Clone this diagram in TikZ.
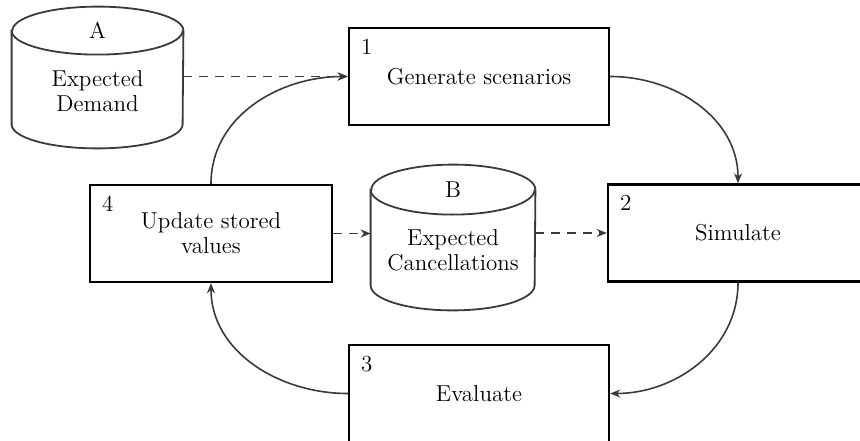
\documentclass[tikz,border=0pt]{standalone}
\usetikzlibrary{arrows.meta}
\definecolor{lnc}{HTML}{3A3A3A}
\begin{document}
\begin{tikzpicture}[x=0.5pt,y=0.5pt,
  font=\fontsize{11.5pt}{12.5pt}\selectfont,
  proc/.style={draw=black, line width=1.2pt, minimum width=130pt, minimum height=48.5pt, inner sep=0pt, align=center},
  num/.style={anchor=north west, inner sep=0pt},
  cylbody/.style={inner sep=0pt, minimum width=#1},
  cylline/.style={draw=lnc, line width=0.9pt},
  flow/.style={draw=lnc, line width=0.8pt, -{Stealth[length=5pt,width=4pt]}},
  dflow/.style={flow, dash pattern=on 4.5pt off 3.5pt},
  txt/.style={align=center, inner sep=0pt}
]
\useasboundingbox (0,0) rectangle (860,440);
\clip (0,0) rectangle (860,440);

% process boxes
\node[proc] (p1) at (479,363.5) {Generate scenarios};
\node[proc] (p2) at (738,207) {Simulate};
\node[proc] (p3) at (479,46.5) {Evaluate};
\node[proc, minimum width=121pt] (p4) at (211,206.5) {Update stored\\values};

\node[num] (n1) at ([xshift=6.5pt,yshift=-6pt]p1.north west) {1};
\node[num] (n2) at ([xshift=6.5pt,yshift=-6pt]p2.north west) {2};
\node[num] (n3) at ([xshift=6.5pt,yshift=-6pt]p3.north west) {3};
\node[num] (n4) at ([xshift=6.5pt,yshift=-6pt]p4.north west) {4};

% cylinder A
\node[cylbody=85.5pt, minimum height=70.5pt] (A) at (97.5,362.5) {};
\draw[cylline] ([yshift=-12pt]A.north west) -- ([yshift=12pt]A.south west)
  arc[start angle=180,end angle=360,x radius=42.75pt,y radius=12pt]
  -- ([yshift=-12pt]A.north east)
  arc[start angle=0,end angle=180,x radius=42.75pt,y radius=12pt] -- cycle;
\draw[cylline] ([yshift=-12pt]A.north west)
  arc[start angle=180,end angle=360,x radius=42.75pt,y radius=12pt];
\node[txt] (Alab) at ([yshift=-12pt]A.north) {A};
\node[txt] (Atxt) at (97.5,349) {Expected\\Demand};

% cylinder B
\node[cylbody=82pt, minimum height=72.5pt] (B) at (453,202.5) {};
\draw[cylline] ([yshift=-12.5pt]B.north west) -- ([yshift=12.5pt]B.south west)
  arc[start angle=180,end angle=360,x radius=41pt,y radius=12.5pt]
  -- ([yshift=-12.5pt]B.north east)
  arc[start angle=0,end angle=180,x radius=41pt,y radius=12.5pt] -- cycle;
\draw[cylline] ([yshift=-12.5pt]B.north west)
  arc[start angle=180,end angle=360,x radius=41pt,y radius=12.5pt];
\node[txt] (Blab) at ([yshift=-12.5pt]B.north) {B};
\node[txt] (Btxt) at (453,190) {Expected\\Cancellations};

% dashed data flows
\draw[dflow] (A.east |- p1.west) -- (p1.west);
\draw[dflow] (p4.east) -- (B.west |- p4.east);
\draw[dflow] (B.east |- p2.west) -- (p2.west);

% cycle
\draw[flow] (p4.north) to[out=90,in=180] (p1.west);
\draw[flow] (p1.east) to[out=0,in=90] (p2.north);
\draw[flow] (p2.south) to[out=-90,in=0] (p3.east);
\draw[flow] (p3.west) to[out=180,in=-90] (p4.south);
\end{tikzpicture}
\end{document}
